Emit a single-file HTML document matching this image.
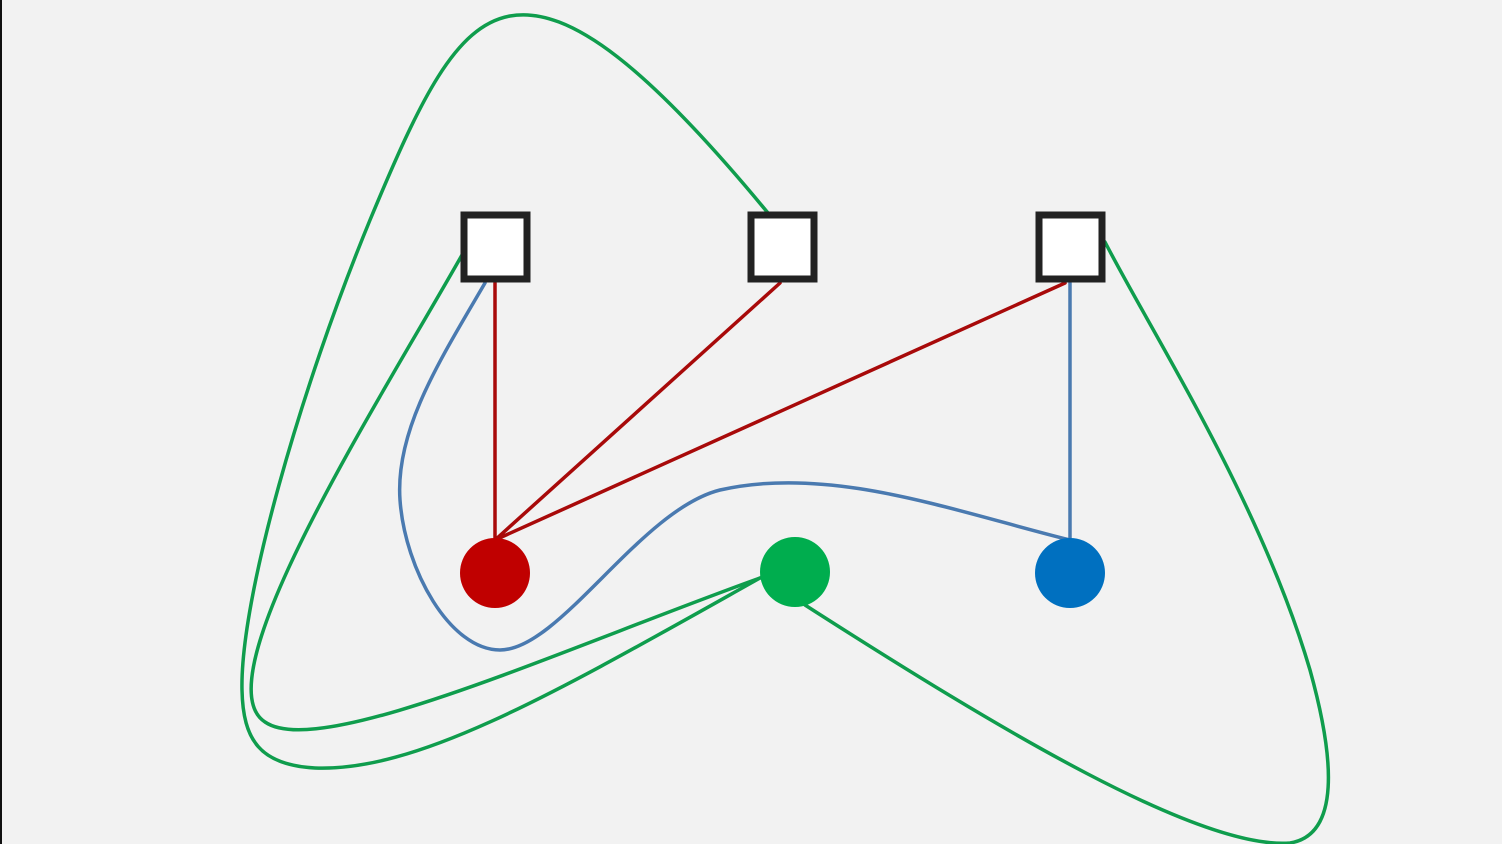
<!DOCTYPE html>
<html><head><style>
html,body{margin:0;padding:0;width:1502px;height:844px;overflow:hidden;background:#f2f2f2;}
svg{display:block;}
</style></head><body>
<svg width="1502" height="844" viewBox="0 0 1502 844" xmlns="http://www.w3.org/2000/svg">
<rect x="0" y="0" width="1502" height="844" fill="#f2f2f2"/>
<rect x="0" y="0" width="2" height="844" fill="#111"/>
<g fill="none" stroke-width="3.5" stroke-linecap="round">
<path d="M768,213 C650,70 570,5 510,16 C455,26 420,100 370,220 C300,390 240,600 242,690 C243,740 260,765 315,768 C420,772 560,690 760,578" stroke="#0f9d4d"/>
<path d="M462,255 C380,400 200,680 265,722 C320,760 560,650 760,578" stroke="#0f9d4d"/>
<path d="M805,605 C1000,730 1200,850 1290,843 C1340,835 1335,760 1310,670 C1260,500 1150,330 1105,242" stroke="#0f9d4d"/>
<path d="M485,283 C440,360 395,430 400,500 C405,570 450,650 500,650 C560,650 640,510 720,490 C830,465 950,510 1070,540" stroke="#4a7ab0"/>
<path d="M1070,283 L1070,540" stroke="#4a7ab0"/>
<path d="M495,540 L495,283 M495,540 L780,283 M495,540 L1065,283" stroke="#a80a0a"/>
</g>
<g fill="#fff" stroke="#222" stroke-width="7">
<rect x="464" y="215" width="63" height="64"/>
<rect x="751" y="215" width="63" height="64"/>
<rect x="1039" y="215" width="63" height="64"/>
</g>
<circle cx="495" cy="573" r="35" fill="#c00000"/>
<circle cx="795" cy="572" r="35" fill="#00ad4e"/>
<circle cx="1070" cy="573" r="35" fill="#0070c0"/>
</svg>
</body></html>
